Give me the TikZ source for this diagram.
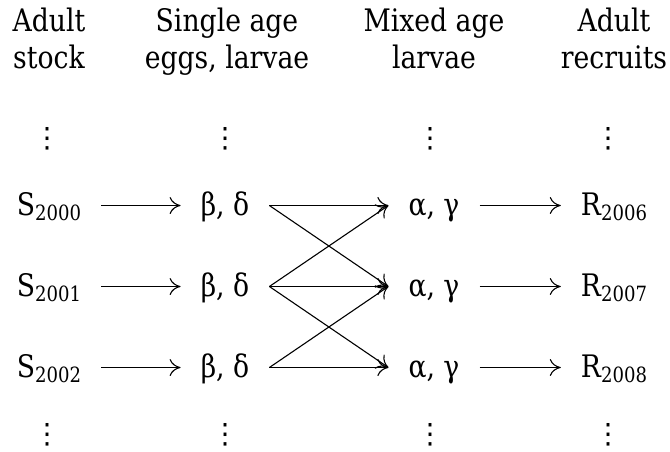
\documentclass[tikz,border=0pt]{standalone}
\usepackage{fontspec}
\setmainfont[FakeStretch=0.86]{DejaVu Serif}
\newfontfamily\dotsfont{DejaVu Sans}
\usetikzlibrary{arrows.meta}
\newcommand{\yr}[1]{\raisebox{-5pt}{\fontsize{21}{21}\selectfont #1}}
\begin{document}
\begin{tikzpicture}[x=1pt,y=-1pt,
  hd/.style={align=center, font=\fontsize{31}{37}\selectfont, inner sep=0pt, anchor=base},
  vd/.style={font=\dotsfont\fontsize{28}{28}\selectfont, inner sep=0pt},
  term/.style={font=\fontsize{31}{31}\selectfont, inner xsep=20pt, inner ysep=0pt, text height=20pt, text depth=0pt},
  ar/.style={-{Computer Modern Rightarrow[length=11pt,width=17pt]}, line width=1.1pt}]
\useasboundingbox (0,0) rectangle (670,451);
% headers
\node[hd] (h1) at (49,68) {Adult\\stock};
\node[hd] (h2) at (227,68) {Single age\\eggs, larvae};
\node[hd] (h3) at (434,68) {Mixed age\\larvae};
\node[hd] (h4) at (614,68) {Adult\\recruits};
% vdots
\foreach \x [count=\i] in {47,225,430,608} {
  \node[vd] (t\i) at (\x,139) {⋮};
  \node[vd] (u\i) at (\x,435) {⋮};
}
% rows
\foreach \y [count=\i] in {205.5,286.5,367.5} {
  \node[term] (s\i) at (49,\y) {S\yr{\the\numexpr1999+\i\relax}};
  \node[term] (b\i) at (225,\y) {β, δ};
  \node[term] (a\i) at (434,\y) {α, γ};
  \node[term] (r\i) at (614,\y) {R\yr{\the\numexpr2005+\i\relax}};
  \draw[ar] (s\i) -- (b\i);
  \draw[ar] (a\i) -- (r\i);
}
\foreach \i/\j in {1/1,1/2,2/1,2/2,2/3,3/2,3/3} {
  \draw[ar] (b\i.east) -- (a\j.west);
}
\end{tikzpicture}
\end{document}
